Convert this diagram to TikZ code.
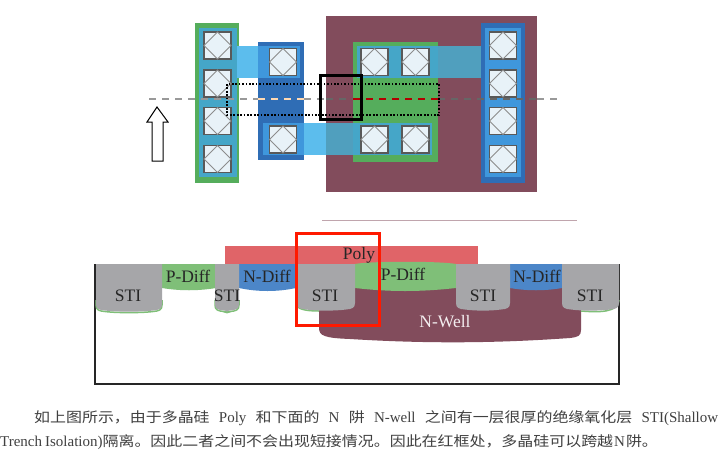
\documentclass[tikz,border=0pt]{standalone}
\usepackage{fontspec}
\setmainfont{Liberation Serif}
\newfontfamily\cjk[FakeStretch=1.14,Scale=0.933]{Noto Sans CJK SC}
\definecolor{wellc}{HTML}{824C5C}
\definecolor{diffg}{HTML}{55AD5C}
\definecolor{ndark}{HTML}{2F6DB5}
\definecolor{nmid}{HTML}{3F97DC}
\definecolor{teal1}{HTML}{45A6C8}
\definecolor{metal}{HTML}{5CBDED}
\definecolor{metalw}{HTML}{509FBE}
\definecolor{cfill}{HTML}{E8F2F8}
\definecolor{stic}{HTML}{A6A6A9}
\definecolor{pdiffc}{HTML}{7FBF78}
\definecolor{ndiffc}{HTML}{4C86C8}
\definecolor{polyc}{HTML}{E06468}
\tikzset{
	contact/.style={draw=black!65,line width=1.2pt,fill=cfill,minimum size=27pt,inner sep=0pt,outer sep=0pt},
	contactdiag/.style={draw=black!45,line width=.8pt},
	lbl/.style={font=\fontsize{17.5}{17.5}\selectfont,color=black!85,inner sep=0pt},
	caption/.style={font=\fontsize{15}{15}\selectfont,color=black!75,inner sep=0pt,anchor=base west},
	center dash/.style={dash pattern=on 7pt off 6pt,line width=1.2pt}
}
\newcommand{\stipath}[3]{(#1,264) -- (#1,#3-7) .. controls (#1,#3-2) and (#1+3,#3-1) .. (#1+9,#3-.5) .. controls (#1+20,#3+1) and (#2-20,#3+1) .. (#2-9,#3-.5) .. controls (#2-3,#3-1) and (#2,#3-2) .. (#2,#3-7) -- (#2,264) -- cycle}
\newcommand{\stirim}[3]{(#1,#3-12) -- (#1,#3-7) .. controls (#1,#3-2) and (#1+3,#3-1) .. (#1+9,#3-.5) .. controls (#1+20,#3+1) and (#2-20,#3+1) .. (#2-9,#3-.5) .. controls (#2-3,#3-1) and (#2,#3-2) .. (#2,#3-7) -- (#2,#3-12)}
\begin{document}
\begin{tikzpicture}[x=1pt,y=-1pt]
	\useasboundingbox (0,0) rectangle (720,458);
	\fill[white] (0,0) rectangle (720,458);

	% layout, wells and diffusions
	\fill[wellc] (326,16) rectangle (537,192);
	\fill[diffg] (195,23) rectangle (239,183);
	\fill[teal1] (199,28) rectangle (237,177);
	\fill[ndark] (258,42) rectangle (304,160);
	\fill[diffg] (353,42) rectangle (438,162);
	\fill[ndark] (481,23) rectangle (525,183);
	\fill[nmid] (485,28) rectangle (521,177);

	% metal
	\fill[metal] (237,46) rectangle (258,78);
	\fill[nmid] (258,46) rectangle (300,78);
	\fill[teal1] (357,46) rectangle (438,78);
	\fill[metalw] (438,46) rectangle (481,78);
	\fill[nmid] (263,123) rectangle (304,155);
	\fill[metal] (304,123) rectangle (326,155);
	\fill[metalw] (326,123) rectangle (353,155);
	\fill[teal1] (353,123) rectangle (432,155);

	\foreach \n/\x/\y in {l1/217.5/45.5,l2/217.5/83.5,l3/217.5/121,l4/217.5/159,
		m1/283/62,m2/283/139.5,
		p1/374.5/62,p2/415.5/62,p3/374.5/139.5,p4/415.5/139.5,
		r1/503/45.5,r2/503/83.5,r3/503/121,r4/503/159}
	{
		\node[contact] (\n) at (\x,\y) {};
		\draw[contactdiag] (\n.north) -- (\n.east) -- (\n.south) -- (\n.west) -- cycle;
	}

	% section line
	\draw[center dash,color=black!40] (149,99) -- (258,99);
	\draw[center dash,color=orange!30] (258,99) -- (304,99);
	\draw[center dash,color=black!40] (304,99) -- (326,99);
	\draw[center dash,color=black!60] (326,99) -- (353,99);
	\draw[center dash,color=red!70!black] (353,99) -- (438,99);
	\draw[center dash,color=black!60] (438,99) -- (537,99);
	\draw[center dash,color=black!40] (537,99) -- (560,99);

	\draw[dash pattern=on 1.7pt off 1.7pt,line width=1.7pt] (227,84) rectangle (439,115);
	\draw[line width=3pt] (320,75) rectangle (361,119);

	\draw[line width=1pt,fill=white] (152,161) -- (152,122) -- (147,122) -- (157,107)
		-- (168,122) -- (163,122) -- (163,161) -- cycle;

	% cross section
	\draw[color=wellc!50,line width=.8pt] (322,220.5) -- (577,220.5);
	\fill[polyc] (225,246) rectangle (478,264);
	\draw[black!85,line width=1.2pt] (95,264) -- (95,384) -- (619,384) -- (619,264);

	\fill[wellc] (319,285) -- (581,285) -- (581,330) .. controls (581,336) and (578,337) .. (570,338)
		.. controls (500,343) and (430,344) .. (350,339) .. controls (325,338) and (319,336) .. (319,328) -- cycle;

	\fill[pdiffc] (162,264) -- (162,288) .. controls (180,291) and (198,291) .. (216,288) -- (216,264) -- cycle;
	\fill[ndiffc] (239,264) -- (239,288) .. controls (258,292) and (277,292) .. (296,288) -- (296,264) -- cycle;
	\fill[pdiffc] (355,264) .. controls (370,261) and (440,261) .. (456,264) -- (456,288) .. controls (420,292) and (390,292) .. (355,288) -- cycle;
	\fill[ndiffc] (510,264) -- (510,288) .. controls (527,291) and (545,291) .. (562,288) -- (562,264) -- cycle;

	\draw[pdiffc,line width=1.5pt] \stirim{96}{162}{312};
	\draw[pdiffc,line width=1.5pt] \stirim{215}{239}{312};
	\draw[pdiffc,line width=1.5pt] (296,300) -- (296,304) .. controls (297,309) and (305,311) .. (319,311);
	\draw[pdiffc,line width=1.5pt] (581,311) .. controls (600,312.5) and (618,312.5) .. (619,300);
	\foreach \a/\b/\c in {96/162/311,215/239/311,297/355/310,456/510/310,562/619/310}
	\fill[stic] \stipath{\a}{\b}{\c};

	\draw[color=red!80!orange,line width=3pt] (296,233) rectangle (379,325);

	\node[lbl] (sti1) at (128,296) {STI};
	\node[lbl] (pd1) at (188,276) {P-Diff};
	\node[lbl] (sti2) at (227,296) {STI};
	\node[lbl] (nd1) at (267,276) {N-Diff};
	\node[lbl] (sti3) at (325,296) {STI};
	\node[lbl] (poly) at (359,255) {Poly};
	\node[lbl] (pd2) at (403,274) {P-Diff};
	\node[lbl] (sti4) at (483,296) {STI};
	\node[lbl] (nd2) at (537,276) {N-Diff};
	\node[lbl] (sti5) at (590,296) {STI};
	\node[lbl,color=white!90!wellc] (nwell) at (445,322) {N-Well};

	% caption
	\node[caption] (line1) at (34,422) {\makebox[684pt][s]{{\cjk 如上图所示，由于多晶硅} Poly {\cjk 和下面的} N {\cjk 阱} N-well {\cjk 之间有一层很厚的绝缘氧化层} STI(Shallow}};
	\node[caption] (line2) at (0,446) {Trench\kern3pt Isolation){\cjk 隔离。因此二者之间不会出现短接情况。因此在红框处，多晶硅可以跨越}\kern1pt N\kern1pt{\cjk 阱。}};
\end{tikzpicture}
\end{document}
